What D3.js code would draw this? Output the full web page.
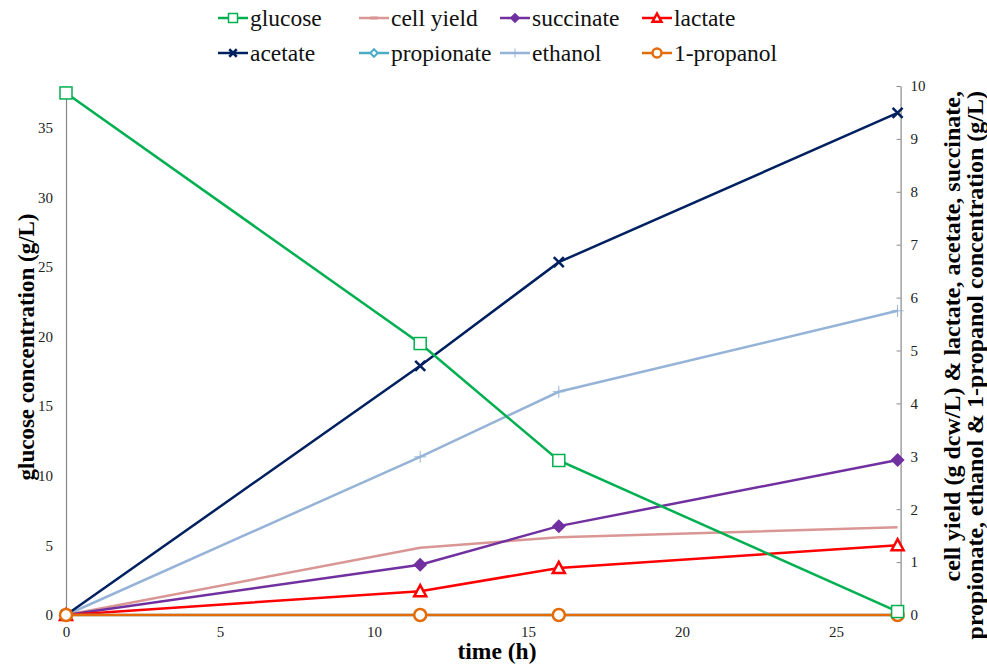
<!DOCTYPE html>
<html>
<head>
<meta charset="utf-8">
<script src="https://cdn.jsdelivr.net/npm/d3@7"></script>
<style>
  body { margin: 0; background: #fff; }
  svg text { font-family: "Liberation Serif", "DejaVu Serif", "Noto Serif", serif; }
</style>
</head>
<body>
<svg id="chart" width="987" height="670"></svg>
<script>
// time points (h)
const times = [0, 11.5, 16, 27];

// left axis series
const glucose = [37.5, 19.5, 11.1, 0.25];

// right axis series (g/L)
const cellYield = [0, 1.27, 1.47, 1.66];
const succinate = [0, 0.95, 1.68, 2.93];
const lactate = [0, 0.45, 0.89, 1.32];
const acetate = [0, 4.71, 6.67, 9.49];
const propionate = [0, 0, 0, 0];
const ethanol = [0, 2.99, 4.22, 5.75];
const propanol = [0, 0, 0, 0];

const leftTicks = [0, 5, 10, 15, 20, 25, 30, 35];
const rightTicks = [0, 1, 2, 3, 4, 5, 6, 7, 8, 9, 10];
const xTicks = [0, 5, 10, 15, 20, 25];

const series = [
  { name: 'glucose', values: glucose, axis: 'left', color: '#00B050', marker: 'square' },
  { name: 'cell yield', values: cellYield, axis: 'right', color: '#D99694', marker: 'dash' },
  { name: 'succinate', values: succinate, axis: 'right', color: '#7030A0', marker: 'diamond' },
  { name: 'lactate', values: lactate, axis: 'right', color: '#FF0000', marker: 'triangle' },
  { name: 'acetate', values: acetate, axis: 'right', color: '#002060', marker: 'x' },
  { name: 'propionate', values: propionate, axis: 'right', color: '#4BACC6', marker: 'diamondOpen' },
  { name: 'ethanol', values: ethanol, axis: 'right', color: '#95B3D7', marker: 'plus' },
  { name: '1-propanol', values: propanol, axis: 'right', color: '#E36C09', marker: 'circle' }
];

const FONT = '"Liberation Serif", "DejaVu Serif", serif';
const svg = d3.select('#chart');

const x = d3.scaleLinear().domain([0, 27]).range([66, 897.6]);
const yL = d3.scaleLinear().domain([0, 38]).range([615, 86]);
const yR = d3.scaleLinear().domain([0, 10]).range([615, 86]);

// axes
const leftAxis = svg.append('g')
  .attr('transform', `translate(${x(0)},0)`)
  .call(d3.axisLeft(yL).tickValues(leftTicks).tickSize(0).tickPadding(13));
leftAxis.select('.domain').attr('stroke', '#888').attr('stroke-width', 1.2);

const rightAxis = svg.append('g')
  .attr('transform', `translate(${x(27) + 3},0)`)
  .call(d3.axisRight(yR).tickValues(rightTicks).tickSizeInner(-4).tickSizeOuter(0).tickPadding(10));
rightAxis.select('.domain').attr('stroke', '#888').attr('stroke-width', 1.2);
rightAxis.selectAll('.tick line').attr('stroke', '#888');

const bottomAxis = svg.append('g')
  .attr('transform', `translate(0,${yL(0)})`)
  .call(d3.axisBottom(x).tickValues(xTicks).tickSize(0).tickPadding(11));
bottomAxis.select('.domain').attr('stroke', '#888');

svg.selectAll('g.tick text')
  .attr('font-family', FONT)
  .attr('font-size', 15)
  .attr('fill', '#222');
[leftAxis, rightAxis, bottomAxis].forEach(a => a.attr('font-family', FONT));

// axis titles
svg.append('text')
  .attr('transform', 'translate(34,347) rotate(-90)')
  .attr('text-anchor', 'middle')
  .attr('font-family', FONT)
  .attr('font-size', 23).attr('font-weight', 'bold')
  .text('glucose concentration (g/L)');

svg.append('text')
  .attr('transform', 'translate(960,91) rotate(-90)')
  .attr('text-anchor', 'end')
  .attr('font-family', FONT)
  .attr('font-size', 24).attr('font-weight', 'bold')
  .text('cell yield (g dcw/L) & lactate, acetate, succinate,');
svg.append('text')
  .attr('transform', 'translate(983,91) rotate(-90)')
  .attr('text-anchor', 'end')
  .attr('font-family', FONT)
  .attr('font-size', 24).attr('font-weight', 'bold')
  .text('propionate, ethanol & 1-propanol concentration (g/L)');

svg.append('text')
  .attr('x', 497).attr('y', 659)
  .attr('text-anchor', 'middle')
  .attr('font-family', FONT)
  .attr('font-size', 23.5).attr('font-weight', 'bold')
  .text('time (h)');

// marker drawing
function drawMarker(g, type, color, k = 1) {
  switch (type) {
    case 'square':
      g.append('rect').attr('x', -6 * k).attr('y', -6 * k).attr('width', 12 * k).attr('height', 12 * k)
        .attr('fill', '#fff').attr('stroke', color).attr('stroke-width', 1.5);
      break;
    case 'diamond':
      g.append('path').attr('d', `M0,${-7 * k}L${7 * k},0L0,${7 * k}L${-7 * k},0Z`).attr('fill', color);
      break;
    case 'diamondOpen':
      g.append('path').attr('d', `M0,${-5 * k}L${5 * k},0L0,${5 * k}L${-5 * k},0Z`)
        .attr('fill', '#fff').attr('stroke', color).attr('stroke-width', 2);
      break;
    case 'triangle':
      g.append('path').attr('d', `M0,${-6 * k}L${6 * k},${5 * k}L${-6 * k},${5 * k}Z`)
        .attr('fill', '#fff').attr('stroke', color).attr('stroke-width', 2.5);
      break;
    case 'x':
      g.append('path').attr('d', `M${-5 * k},${-5 * k}L${5 * k},${5 * k}M${-5 * k},${5 * k}L${5 * k},${-5 * k}`)
        .attr('stroke', color).attr('stroke-width', 2.5);
      break;
    case 'plus':
      g.append('path').attr('d', `M0,${-6 * k}L0,${6 * k}M${-6 * k},0L${6 * k},0`)
        .attr('stroke', color).attr('stroke-width', 1);
      break;
    case 'circle':
      g.append('circle').attr('r', 6 * k)
        .attr('fill', '#fff').attr('stroke', color).attr('stroke-width', 2.5);
      break;
    case 'dash':
      g.append('path').attr('d', `M${-5 * k},0L${5 * k},0`)
        .attr('stroke', color).attr('stroke-width', 3);
      break;
  }
}

// lines, drawn so glucose ends up on top
const plot = svg.append('g');
const drawOrder = ['ethanol', 'cell yield', 'succinate', 'lactate', 'propionate', 'acetate', '1-propanol', 'glucose'];
drawOrder.forEach(name => {
  const s = series.find(d => d.name === name);
  const yScale = s.axis === 'left' ? yL : yR;
  const line = d3.line().x((d, i) => x(times[i])).y(d => yScale(d));
  plot.append('path')
    .datum(s.values)
    .attr('d', line)
    .attr('fill', 'none')
    .attr('stroke', s.color)
    .attr('stroke-width', 2.5);
});
drawOrder.forEach(name => {
  const s = series.find(d => d.name === name);
  if (s.marker === 'dash') return;
  const yScale = s.axis === 'left' ? yL : yR;
  s.values.forEach((v, i) => {
    const g = plot.append('g').attr('transform', `translate(${x(times[i])},${yScale(v)})`);
    drawMarker(g, s.marker, s.color);
  });
});

// legend
const legendCols = [218, 359, 500, 642];
const legendRows = [18, 53];
const legend = svg.append('g');
series.forEach((s, i) => {
  const lx = legendCols[i % 4];
  const ly = legendRows[Math.floor(i / 4)];
  const g = legend.append('g').attr('transform', `translate(${lx},${ly})`);
  g.append('line').attr('x1', 0).attr('x2', 30).attr('y1', 0).attr('y2', 0)
    .attr('stroke', s.color).attr('stroke-width', 2.5);
  const m = g.append('g').attr('transform', 'translate(15,0)');
  drawMarker(m, s.marker, s.color, 0.75);
  g.append('text').attr('x', 32).attr('y', 8)
    .attr('font-family', FONT)
    .attr('font-size', 23.5).attr('fill', '#111')
    .text(s.name);
});
</script>
</body>
</html>
